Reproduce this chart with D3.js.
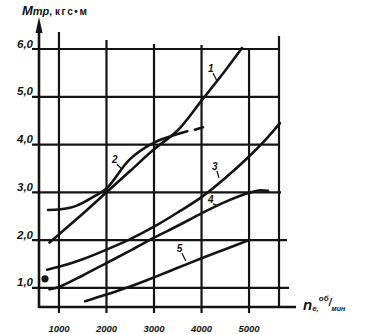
<!DOCTYPE html>
<html><head><meta charset="utf-8">
<script src="https://cdn.jsdelivr.net/npm/d3@7/dist/d3.min.js"></script>
<style>
html,body{margin:0;padding:0;background:#fff;}
svg{display:block;}
text{font-family:"Liberation Sans",Arial,sans-serif;fill:#141414;}
</style></head>
<body><svg id="c" width="365" height="334"></svg>
<script>
// ---- data ----
const xTicks = [1000, 2000, 3000, 4000, 5000];
const xTickLabels = ["1000", "2000", "3000", "4000", "5000"];
const yTicks = [1, 2, 3, 4, 5, 6];
const yTickLabels = ["1,0", "2,0", "3,0", "4,0", "5,0", "6,0"];
const curve1 = [[800,1.95],[1000,2.12],[1500,2.55],[2000,3.0],[2500,3.45],[3000,3.9],[3500,4.3],[4000,4.92],[4500,5.55],[4850,6.02]];
const curve2 = [[770,2.63],[1000,2.64],[1250,2.68],[1500,2.78],[1750,2.92],[2000,3.08],[2500,3.7],[3000,4.04],[3500,4.22],[3700,4.28]];
const curve2Dashed = [[3860,4.31],[4030,4.36]];
const curve3 = [[750,1.38],[1000,1.44],[1500,1.6],[2000,1.8],[2500,2.02],[3000,2.28],[3500,2.58],[4000,2.9],[4500,3.3],[5000,3.75],[5300,4.05],[5650,4.45]];
const curve4 = [[800,0.97],[1000,1.02],[1500,1.26],[2000,1.52],[2500,1.78],[3000,2.05],[3500,2.3],[4000,2.56],[4500,2.8],[5000,2.99],[5200,3.04],[5400,3.03]];
const curve5 = [[1550,0.72],[2000,0.86],[2500,1.03],[3000,1.22],[3500,1.42],[4000,1.62],[4500,1.81],[5000,2.0]];
const dotPoint = [706, 1.19];
const curveLabels = [
  {t:"1", rpm:4136, v:5.52, dx:4, dy:8},
  {t:"2", rpm:2116, v:3.61, dx:5, dy:5},
  {t:"3", rpm:4220, v:3.47, dx:2, dy:7},
  {t:"4", rpm:4136, v:2.78, dx:5, dy:2},
  {t:"5", rpm:3480, v:1.75, dx:4, dy:8}
];

// ---- scales ----
const x = d3.scaleLinear().domain([580, 5630]).range([39, 279]);
const y = d3.scaleLinear().domain([0.6, 6.0]).range([307, 49]);

const svg = d3.select("#c");
const ink = "#141414";
const g = svg.append("g");

// vertical grid lines
const topExt = [17, 9, 5, 4, 0];
xTicks.forEach((t, i) => {
  g.append("line").attr("x1", x(t)).attr("x2", x(t))
    .attr("y1", y(6) - topExt[i]).attr("y2", y.range()[0] + 6)
    .attr("stroke", ink).attr("stroke-width", 2.2);
});
// right border
g.append("line").attr("x1", x.range()[1]).attr("x2", x.range()[1])
  .attr("y1", y(6) - 13).attr("y2", y.range()[0])
  .attr("stroke", ink).attr("stroke-width", 2.2);

// horizontal grid lines
const rightExt = [10, 8, 2, 0, 0, 0];
yTicks.forEach((t, i) => {
  g.append("line").attr("x1", x.range()[0] - 7).attr("x2", x.range()[1] + rightExt[i])
    .attr("y1", y(t)).attr("y2", y(t))
    .attr("stroke", ink).attr("stroke-width", 2.2);
});
// x axis
g.append("line").attr("x1", x.range()[0]).attr("x2", x.range()[1] + 17)
  .attr("y1", y.range()[0]).attr("y2", y.range()[0])
  .attr("stroke", ink).attr("stroke-width", 2.6);
// y axis with arrow
g.append("line").attr("x1", x.range()[0]).attr("x2", x.range()[0])
  .attr("y1", y.range()[0] + 1).attr("y2", 26)
  .attr("stroke", ink).attr("stroke-width", 2.6);
g.append("path")
  .attr("d", `M${x.range()[0]},17 L${x.range()[0]-3.5},33 L${x.range()[0]+3.5},33 Z`)
  .attr("fill", ink);

// tick labels
yTicks.forEach((t, i) => {
  g.append("text").attr("x", x.range()[0] - 6).attr("y", y(t) - 1.5)
    .attr("text-anchor", "end").attr("font-size", 11.5)
    .attr("font-weight", "bold").attr("font-style", "italic")
    .text(yTickLabels[i]);
});
xTicks.forEach((t, i) => {
  g.append("text").attr("x", x(t)).attr("y", 332)
    .attr("text-anchor", "middle").attr("font-size", 9.5)
    .attr("font-weight", "bold").attr("font-style", "italic")
    .text(xTickLabels[i]);
});

// curves
const line = d3.line().x(d => x(d[0])).y(d => y(d[1])).curve(d3.curveCatmullRom.alpha(0.5));
[curve1, curve2, curve2Dashed, curve3, curve4, curve5].forEach(c => {
  g.append("path").attr("d", line(c)).attr("fill", "none")
    .attr("stroke", ink).attr("stroke-width", 2.6).attr("stroke-linecap", "round");
});
g.append("circle").attr("cx", x(dotPoint[0])).attr("cy", y(dotPoint[1])).attr("r", 3.6).attr("fill", ink);

// curve labels with leader ticks
curveLabels.forEach(l => {
  const px = x(l.rpm), py = y(l.v);
  g.append("text").attr("x", px).attr("y", py).attr("font-size", 10)
    .attr("font-weight", "bold").attr("font-style", "italic").text(l.t);
  g.append("line").attr("x1", px + 5).attr("y1", py + 1).attr("x2", px + 5 + l.dx).attr("y2", py + 1 + l.dy)
    .attr("stroke", ink).attr("stroke-width", 1.3);
});

// axis titles
const yt = g.append("text").attr("x", 22).attr("y", 15).attr("font-weight", "bold");
yt.append("tspan").attr("font-size", 13).attr("font-style", "italic").text("M");
yt.append("tspan").attr("font-size", 11).attr("font-style", "italic").text("тр");
yt.append("tspan").attr("font-size", 10).text(", ");
yt.append("tspan").attr("font-size", 10).attr("letter-spacing", 1.6).text("кгс•м");

const xt = g.append("text").attr("x", 303).attr("y", 310).attr("font-weight", "bold").attr("font-style", "italic");
xt.append("tspan").attr("font-size", 15).text("n");
xt.append("tspan").attr("font-size", 8).attr("dy", 1).text("е,");
xt.append("tspan").attr("font-size", 8).attr("dy", -10).text("об");
xt.append("tspan").attr("font-size", 10).attr("dy", 5).text("/");
xt.append("tspan").attr("font-size", 7).attr("dy", 5).text("мин");
</script></body></html>
